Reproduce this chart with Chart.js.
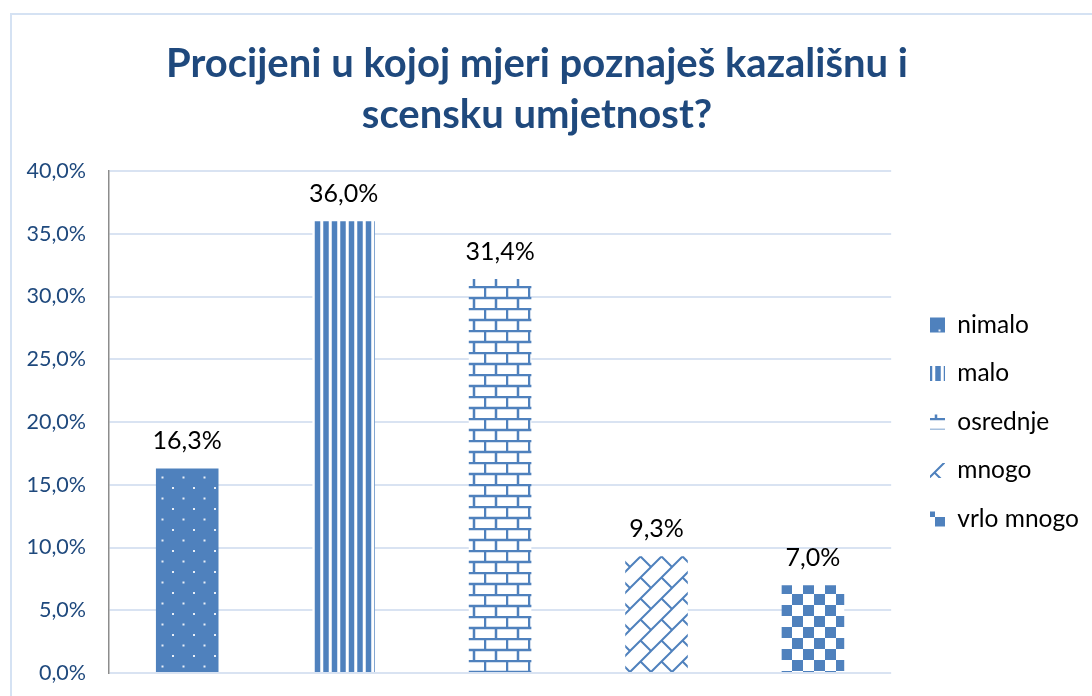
<!DOCTYPE html>
<html>
<head>
<meta charset="utf-8">
<script src="https://cdn.jsdelivr.net/npm/chart.js@4.4.1/dist/chart.umd.min.js"></script>
<style>
  html, body { margin: 0; padding: 0; background: #fff; }
  #wrap { position: relative; width: 1092px; height: 696px; overflow: hidden; }
  #frame {
    position: absolute; left: 10px; top: 13px; right: -10px; bottom: -10px;
    border-top: 2px solid #d5e2f3; border-left: 2px solid #d5e2f3;
  }
  canvas { position: absolute; left: 0; top: 0; }
</style>
</head>
<body>
<div id="wrap">
  <div id="frame"></div>
  <canvas id="chart" width="1092" height="696"></canvas>
</div>
<script>
// data
const categories = ["nimalo", "malo", "osrednje", "mnogo", "vrlo mnogo"];
const values = [16.3, 36.0, 31.4, 9.3, 7.0];
const yMin = 0, yMax = 40, yStep = 5;
const titleLines = ["Procijeni u kojoj mjeri poznaješ kazališnu i", "scensku umjetnost?"];

const BLUE = "#4f81bd";
const fmt = v => v.toFixed(1).replace(".", ",") + "%";

const canvas = document.getElementById("chart");
const ctx = canvas.getContext("2d");

// pattern tiles (Excel style fills)
function tile(w, h, draw) {
  const c = document.createElement("canvas");
  c.width = w;
  c.height = h;
  const g = c.getContext("2d");
  draw(g, w, h);
  return ctx.createPattern(c, "repeat");
}

const dots = tile(21, 21, (g, w, h) => {
  g.fillStyle = BLUE;
  g.fillRect(0, 0, w, h);
  g.fillStyle = "#e9eff8";
  g.fillRect(4, 4, 2, 2);
  g.fillRect(14.5, 14.5, 2, 2);
});

const stripes = tile(17, 4, (g, w, h) => {
  g.fillStyle = "#fff";
  g.fillRect(0, 0, w, h);
  g.fillStyle = "#a9c1e0";
  g.fillRect(0, 0, 6, h);
  g.fillRect(8.5, 0, 6, h);
  g.fillStyle = BLUE;
  g.fillRect(0.5, 0, 5, h);
  g.fillRect(9, 0, 5, h);
});

const bricks = tile(22, 22, (g, w, h) => {
  g.fillStyle = "#fff";
  g.fillRect(0, 0, w, h);
  g.strokeStyle = BLUE;
  g.lineWidth = 2.5;
  g.beginPath();
  g.moveTo(0, 1); g.lineTo(w, 1);
  g.moveTo(0, 12); g.lineTo(w, 12);
  g.moveTo(1, 1); g.lineTo(1, 12);
  g.moveTo(12, 12); g.lineTo(12, 23);
  g.moveTo(12, -1); g.lineTo(12, 1);
  g.stroke();
});

const diagBricks = tile(21, 21, (g, w, h) => {
  g.fillStyle = "#fff";
  g.fillRect(0, 0, w, h);
  g.strokeStyle = BLUE;
  g.lineWidth = 2;
  g.beginPath();
  g.moveTo(-2, 23); g.lineTo(23, -2);
  g.moveTo(-2, 2); g.lineTo(2, -2);
  g.moveTo(19, 23); g.lineTo(23, 19);
  g.moveTo(10.5, 10.5); g.lineTo(21, 21);
  g.moveTo(-11, -11); g.lineTo(0, 0);
  g.stroke();
});

const checks = tile(22, 22, (g, w, h) => {
  g.fillStyle = "#fff";
  g.fillRect(0, 0, w, h);
  g.fillStyle = BLUE;
  g.fillRect(0, 0, 11, 11);
  g.fillRect(11, 11, 11, 11);
});

const fills = [dots, stripes, bricks, diagBricks, checks];

// value labels above bars
const barLabels = {
  id: "barLabels",
  afterDatasetsDraw(chart) {
    const c = chart.ctx;
    const meta = chart.getDatasetMeta(0);
    c.save();
    c.font = "25px Lato";
    c.fillStyle = "#000";
    c.textAlign = "center";
    c.textBaseline = "alphabetic";
    meta.data.forEach((bar, i) => {
      c.fillText(fmt(values[i]), bar.x, bar.y - 19);
    });
    c.restore();
  }
};

// legend: move right of the plot and centre it on the plot height
const legendShift = {
  id: "legendShift",
  afterLayout(chart) {
    const lg = chart.legend;
    const area = chart.chartArea;
    const dx = 906 - lg.left;
    lg.left += dx;
    lg.right += dx;
    lg.top = area.top;
    lg.bottom = area.bottom;
    lg.height = area.bottom - area.top;
  }
};

Chart.defaults.font.family = "Lato";

new Chart(canvas, {
  type: "bar",
  data: {
    labels: categories,
    datasets: [{
      data: values,
      backgroundColor: fills,
      borderWidth: 0,
      categoryPercentage: 1,
      barPercentage: 0.4
    }]
  },
  options: {
    responsive: false,
    animation: false,
    events: [],
    layout: { padding: { left: 0, right: 18, top: 17, bottom: 23 } },
    plugins: {
      title: {
        display: true,
        text: titleLines,
        color: "#1f497d",
        font: { size: 40, weight: "bold", lineHeight: 1.28 },
        padding: { top: 21, bottom: 30.6 }
      },
      legend: {
        position: "right",
        labels: {
          boxWidth: 15,
          boxHeight: 15,
          padding: 24,
          color: "#000",
          font: { size: 24.5 },
          generateLabels: () => categories.map((name, i) => ({
            text: name,
            fillStyle: fills[i],
            strokeStyle: "rgba(0,0,0,0)",
            lineWidth: 0,
            fontColor: "#000",
            hidden: false,
            index: i
          }))
        }
      },
      tooltip: { enabled: false }
    },
    scales: {
      x: { display: false },
      y: {
        min: yMin,
        max: yMax,
        ticks: {
          stepSize: yStep,
          padding: 23,
          color: "#1f497d",
          font: { size: 21.5 },
          callback: v => fmt(v)
        },
        grid: { color: "#d9e3f2", lineWidth: 2, drawTicks: false },
        border: { color: "#8c8c8c", width: 1.5 },
        afterFit: s => {
          s.width = 109;
          s.paddingTop = 0;
          s.paddingBottom = 0;
        }
      }
    }
  },
  plugins: [barLabels, legendShift]
});
</script>
</body>
</html>
